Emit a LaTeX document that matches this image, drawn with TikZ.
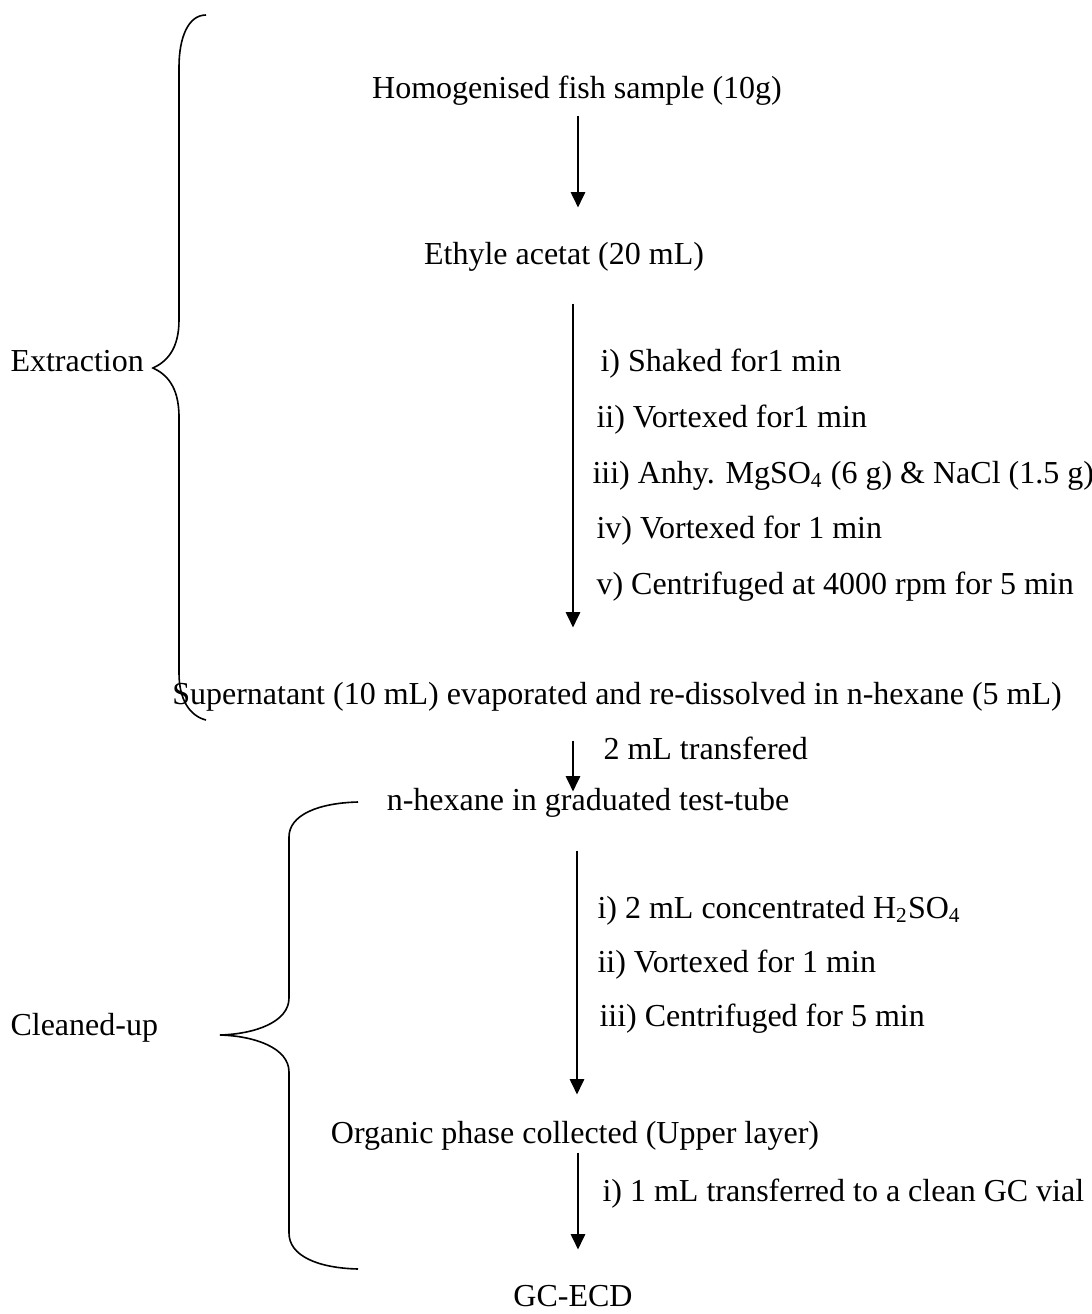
\documentclass[tikz,border=0pt]{standalone}
\usepackage{fontspec}
\setmainfont{Liberation Serif}
\usetikzlibrary{calc,arrows.meta}

\begin{document}
\begin{tikzpicture}[x=0.375pt,y=-0.375pt,
  txt/.style={inner sep=0pt,font=\fontsize{12}{14}\selectfont,text height=9pt,text depth=3pt},
  flow/.style={-{Triangle[length=5.8pt,width=5.4pt]},line width=0.75pt},
  curly/.style={line width=0.6pt}]
  \useasboundingbox (0,0) rectangle (1092,1314);
  % main sequence
  \node[txt,anchor=base] (hom) at (577,98) {Homogenised fish sample (10g)};
  \node[txt,anchor=base] (eth) at (564,264) {Ethyle acetat (20 mL)};
  \node[txt,anchor=base] (sup) at (617,704) {Supernatant (10 mL) evaporated and re-dissolved in n-hexane (5 mL)};
  \node[txt,anchor=base] (hex) at (588,810) {n-hexane in graduated test-tube};
  \node[txt,anchor=base] (org) at (575,1143) {Organic phase collected (Upper layer)};
  \node[txt,anchor=base] (gc) at (573,1306) {GC-ECD};
  % arrow columns
  \coordinate (c1) at (578,0);
  \coordinate (c2) at (573,0);
  \coordinate (c3) at (573,0);
  \coordinate (c4) at (577,0);
  \coordinate (c5) at (578,0);
  \draw[flow] ($(hom.south -| c1)+(0,9)$) -- ($(eth.north -| c1)+(0,-32)$);
  \draw[flow] ($(eth.south -| c2)+(0,31)$) -- ($(sup.north -| c2)+(0,-52)$);
  \draw[flow] ($(sup.south -| c3)+(0,28)$) -- ($(hex.north -| c3)+(0,6)$);
  \draw[flow] ($(hex.south -| c4)+(0,32)$) -- ($(org.north -| c4)+(0,-24)$);
  \draw[flow] ($(org.south -| c5)+(0,1)$) -- ($(gc.north -| c5)+(0,-32)$);
  % extraction steps
  \node[txt,anchor=base west] (e1) at (600,371) {i) Shaked for1 min};
  \node[txt,anchor=base west] (e2) at (596,427) {ii) Vortexed for1 min};
  \node[txt,anchor=base west] (e3) at (592,483) {iii) Anhy. MgSO\textsubscript{4} (6 g) \& NaCl (1.5 g)};
  \node[txt,anchor=base west] (e4) at (596,538) {iv) Vortexed for 1 min};
  \node[txt,anchor=base west] (e5) at (596,594) {v) Centrifuged at 4000 rpm for 5 min};
  \node[txt,anchor=base west] (tr) at (603,759) {2 mL transfered};
  % clean-up steps
  \node[txt,anchor=base west] (k1) at (597,918) {i) 2 mL concentrated H\textsubscript{2}SO\textsubscript{4}};
  \node[txt,anchor=base west] (k2) at (597,972) {ii) Vortexed for 1 min};
  \node[txt,anchor=base west] (k3) at (599,1026) {iii) Centrifuged for 5 min};
  \node[txt,anchor=base west] (vial) at (602,1201) {i) 1 mL transferred to a clean GC vial};
  % braces
  \node[txt,anchor=base west] (ext) at (10,371) {Extraction};
  \draw[curly] (206,15) .. controls (188,15) and (179,38) .. (179,67)
    -- (179,320) .. controls (179,350) and (166,362) .. (153,368)
    .. controls (166,374) and (179,386) .. (179,417)
    -- (179,673) .. controls (179,700) and (190,716) .. (206,720);
  \node[txt,anchor=base west] (cln) at (10,1035) {Cleaned-up};
  \draw[curly] (358,802) .. controls (318,803) and (289,815) .. (289,837)
    -- (289,998) .. controls (289,1022) and (255,1034) .. (220,1035)
    .. controls (255,1036) and (289,1048) .. (289,1072)
    -- (289,1233) .. controls (289,1256) and (318,1268) .. (358,1269);
\end{tikzpicture}
\end{document}
